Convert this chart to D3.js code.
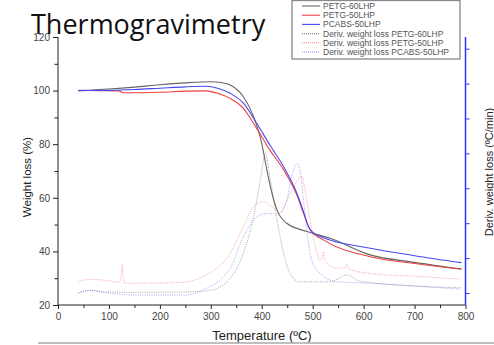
<!DOCTYPE html>
<html>
<head>
<meta charset="utf-8">
<script src="https://cdn.jsdelivr.net/npm/d3@7"></script>
<style>
  body { margin: 0; background: #fff; }
  svg { display: block; }
</style>
</head>
<body>
<div class="graphics"></div>
<script>
// valores: [temperatura, valor]
var petg60 = [[40,100],[100,100.6],[150,101.3],[200,102.2],[250,102.9],[300,103.3],[320,103.0],[338,102.1],[364,97.7],[384,90.3],[400,80.3],[410,70.4],[420,61.7],[430,55.4],[449,50.5],[489,47.4],[534,44.9],[613,38.7],[700,35.9],[792,33.4]]
var petg50 = [[40,100.1],[80,100],[120,99.9],[127,99.2],[200,99.4],[250,99.8],[290,99.9],[315,98.9],[338,97.1],[364,93.4],[390,85.9],[416,77.8],[443,70.4],[469,61],[482,54.2],[495,48],[521,44.3],[613,38],[700,35.5],[792,33.4]]
var pcabs50 = [[40,100],[100,100.1],[150,100.4],[200,100.9],[250,101.4],[290,101.6],[315,100.8],[338,99],[364,95.3],[390,87.8],[416,79.7],[443,71.6],[469,61.7],[482,54.8],[492,49.2],[508,46.1],[613,41.2],[700,38.4],[792,35.8]]

// derivadas (unidades del eje derecho)
var dPetg60 = [[40,0],[63,0.08],[90,0.03],[150,0.02],[250,0.03],[290,0.06],[315,0.15],[338,0.42],[364,1.14],[384,2.18],[398,3.3],[407,4.0],[416,3.33],[430,2.09],[443,1.14],[459,0.47],[475,0.32],[534,0.32],[567,0.52],[590,0.35],[613,0.3],[700,0.2],[790,0.15]]
var dPetg50 = [[40,0.32],[63,0.39],[100,0.35],[120,0.3],[124,0.5],[126,0.83],[128,0.5],[131,0.28],[240,0.3],[285,0.47],[338,1.14],[364,1.9],[384,2.47],[403,2.62],[423,2.43],[436,2.28],[456,2.86],[479,3.33],[485,2.95],[495,2.09],[505,1.33],[515,0.95],[519,1.0],[521,1.18],[523,1.0],[526,0.88],[547,0.71],[564,0.72],[567,0.82],[570,0.72],[580,0.64],[613,0.56],[700,0.48],[790,0.4]]
var dPcabs50 = [[40,0],[63,0.07],[100,0.0],[150,-0.06],[250,-0.06],[285,0.09],[338,0.71],[364,1.61],[390,2.18],[410,2.28],[430,2.26],[449,2.66],[462,3.52],[469,3.71],[475,3.52],[482,2.66],[489,1.71],[498,0.95],[515,0.56],[547,0.32],[613,0.28],[700,0.2],[790,0.11]]

var xTicks = [0,100,200,300,400,500,600,700,800]
var yTicks = [20,40,60,80,100,120]
var legendNames = ["PETG-60LHP","PETG-50LHP","PCABS-50LHP","Deriv. weight loss PETG-60LHP","Deriv. weight loss PETG-50LHP","Deriv. weight loss PCABS-50LHP"]

var w = 494, h = 345
var colGray = "#666", colRed = "#f04040", colBlue = "#4848f0"

var svg = d3.select('.graphics').append('svg')
    .attr("width", w).attr("height", h)

var x = d3.scaleLinear().domain([0,800]).range([58,465.5])
var y = d3.scaleLinear().domain([20,120]).range([305,37])
var yR = d3.scaleLinear().domain([-0.344,7.335]).range([305,37])

var font = "'Liberation Sans', Arial, sans-serif"

// eje x
var gx = svg.append("g").attr("transform","translate(0,305)")
    .call(d3.axisBottom(x).tickValues(d3.range(0,801,50)).tickSize(4)
        .tickFormat(function(d){ return xTicks.indexOf(d) >= 0 ? d : "" }))
gx.selectAll("text").attr("font-family",font).attr("font-size",10).attr("fill","#444").attr("dy","0.75em")
gx.selectAll("line").attr("stroke","#222").attr("y2",function(d){ return d % 100 === 0 ? 4 : 3 })
gx.select(".domain").attr("stroke","#222").attr("d","M58,0H465.5")

// eje y izquierdo
var gy = svg.append("g").attr("transform","translate(58,0)")
    .call(d3.axisLeft(y).tickValues(d3.range(20,121,10)).tickSize(5)
        .tickFormat(function(d){ return yTicks.indexOf(d) >= 0 ? d : "" }))
gy.selectAll("text").attr("font-family",font).attr("font-size",10).attr("fill","#444").attr("x",-8)
gy.selectAll("line").attr("stroke","#222").attr("x2",function(d){ return d % 20 === 0 ? -5 : -3.5 })
gy.select(".domain").attr("stroke","#222").attr("d","M0,37V305")

// eje derecho (azul)
var gr = svg.append("g").attr("transform","translate(465.5,0)")
    .call(d3.axisRight(yR).tickValues(d3.range(0,8)).tickSize(4).tickFormat(""))
gr.selectAll("line").attr("stroke","#3333ff")
gr.select(".domain").attr("stroke","#3333ff").attr("stroke-width",1.5).attr("d","M0,37V305")

// curvas
var line = d3.line().x(function(d){ return x(d[0]) }).y(function(d){ return y(d[1]) }).curve(d3.curveMonotoneX)
var lineR = d3.line().x(function(d){ return x(d[0]) }).y(function(d){ return yR(d[1]) }).curve(d3.curveMonotoneX)

var derivs = [[dPetg60,"#555"],[dPetg50,"#ff5050"],[dPcabs50,"#5555ff"]]
derivs.forEach(function(s){
    svg.append("path").attr("d",lineR(s[0])).attr("fill","none")
        .attr("stroke",s[1]).attr("stroke-width",0.9).attr("stroke-dasharray","1,1.3").attr("opacity",0.6)
})
var weights = [[petg60,colGray],[petg50,colRed],[pcabs50,colBlue]]
weights.forEach(function(s){
    svg.append("path").attr("d",line(s[0])).attr("fill","none")
        .attr("stroke",s[1]).attr("stroke-width",1.1)
})

// titulos de ejes
svg.append("text").attr("x",262).attr("y",340).attr("text-anchor","middle")
    .attr("font-family",font).attr("font-size",13).attr("fill","#222").text("Temperature (ºC)")
svg.append("text").attr("transform","translate(31,177) rotate(-90)").attr("text-anchor","middle")
    .attr("font-family",font).attr("font-size",11.5).attr("fill","#222").text("Weight loss (%)")
svg.append("text").attr("transform","translate(493,172) rotate(-90)").attr("text-anchor","middle")
    .attr("font-family",font).attr("font-size",11).attr("fill","#222").text("Deriv. weight loss (ºC/min)")

// leyenda
var leg = svg.append("g")
leg.append("rect").attr("x",292).attr("y",0.5).attr("width",168).attr("height",58.5)
    .attr("fill","#fff").attr("stroke","#888").attr("stroke-width",1.3)
var legCols = [colGray,colRed,colBlue,"#555","#ff5050","#5555ff"]
legendNames.forEach(function(n,i){
    var yy = 6 + i*9.2
    leg.append("line").attr("x1",302).attr("x2",320).attr("y1",yy).attr("y2",yy)
        .attr("stroke",legCols[i]).attr("stroke-width",1.1)
        .attr("stroke-dasharray", i > 2 ? "1,1" : null).attr("opacity", i > 2 ? 0.7 : 1)
    leg.append("text").attr("x",323).attr("y",yy).attr("dy","0.35em")
        .attr("font-family",font).attr("font-size",8.5).attr("fill","#555").text(n)
})

// titulo
svg.append("text").attr("x",31).attr("y",34).attr("font-family","'Open Sans', Lato, sans-serif")
    .attr("font-size",27).attr("fill","#111").text("Thermogravimetry")

// linea gris inferior
svg.append("line").attr("x1",38).attr("x2",494).attr("y1",343).attr("y2",343)
    .attr("stroke","#aaa").attr("stroke-width",1.5)
</script>
</body>
</html>
